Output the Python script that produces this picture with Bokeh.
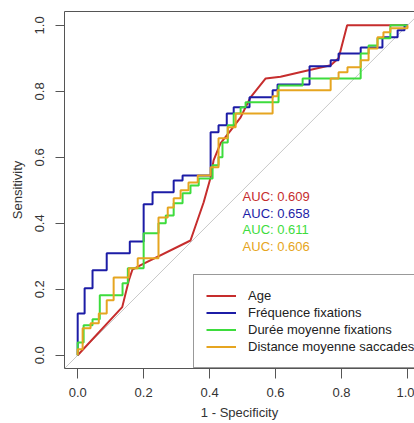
from bokeh.plotting import figure
from bokeh.models import Range1d, FixedTicker, LinearAxis, Legend, LegendItem, Slope, Label, PrintfTickFormatter
from bokeh.embed import file_html
from bokeh.resources import INLINE

# ---- data ----
series_names = ["Age", "Fréquence fixations", "Durée moyenne fixations", "Distance moyenne saccades"]
auc_values = [0.609, 0.658, 0.611, 0.606]
colors = ["#c62d2d", "#1c1ca6", "#3ddc3d", "#e6a520"]

# Age: polyline (1 - specificity, sensitivity)
age_fpr = [0.0, 0.135, 0.155, 0.166, 0.191, 0.342, 0.382, 0.403, 0.412, 0.433, 0.464, 0.494,
           0.524, 0.570, 0.615, 0.700, 0.767, 0.791, 0.817, 1.0]
age_tpr = [0.0, 0.146, 0.227, 0.260, 0.273, 0.348, 0.464, 0.539, 0.591, 0.642, 0.682, 0.721,
           0.782, 0.839, 0.844, 0.864, 0.879, 0.900, 1.0, 1.0]

# staircase curves: x where each vertical step happens, and the sensitivity reached
freq_fpr = [0.0, 0.021, 0.045, 0.088, 0.158, 0.200, 0.227, 0.291, 0.318, 0.403, 0.427, 0.452,
            0.473, 0.521, 0.591, 0.606, 0.703, 0.767, 0.791, 0.858, 0.924, 0.970, 0.991]
freq_tpr = [0.127, 0.203, 0.258, 0.309, 0.345, 0.458, 0.494, 0.530, 0.545, 0.676, 0.697, 0.733,
            0.752, 0.782, 0.803, 0.821, 0.876, 0.894, 0.915, 0.933, 0.964, 0.985, 1.0]

duree_fpr = [0.0, 0.018, 0.045, 0.067, 0.136, 0.152, 0.200, 0.245, 0.267, 0.291, 0.318, 0.342,
             0.367, 0.409, 0.427, 0.439, 0.455, 0.473, 0.494, 0.509, 0.609, 0.682, 0.858, 0.882,
             0.909, 0.948]
duree_tpr = [0.039, 0.091, 0.109, 0.182, 0.218, 0.264, 0.370, 0.400, 0.424, 0.461, 0.491, 0.515,
             0.536, 0.576, 0.600, 0.645, 0.697, 0.733, 0.752, 0.767, 0.818, 0.839, 0.915, 0.939,
             0.961, 1.0]

dist_fpr = [0.0, 0.015, 0.039, 0.064, 0.088, 0.109, 0.155, 0.182, 0.245, 0.273, 0.291, 0.312,
            0.336, 0.364, 0.403, 0.427, 0.455, 0.479, 0.591, 0.606, 0.767, 0.791, 0.818, 0.858,
            0.882, 0.909, 0.927, 0.948, 1.0]
dist_tpr = [0.018, 0.082, 0.097, 0.127, 0.167, 0.236, 0.264, 0.294, 0.418, 0.448, 0.476, 0.500,
            0.524, 0.545, 0.570, 0.658, 0.691, 0.733, 0.785, 0.803, 0.839, 0.858, 0.873, 0.894,
            0.930, 0.964, 0.979, 0.991, 1.0]

tick_values = [0.0, 0.2, 0.4, 0.6, 0.8, 1.0]


def staircase(xs, ys):
    vx, vy = [0.0], [0.0]
    for x, y in zip(xs, ys):
        vx.append(x); vy.append(vy[-1])
        vx.append(x); vy.append(y)
    vx.append(1.0); vy.append(vy[-1])
    return vx, vy


FONT = "Liberation Sans"
AX = "#555555"
TXT = "#333333"

p = figure(width=414, height=423, output_backend="svg", toolbar_location=None,
           x_range=Range1d(-0.04, 1.0212), y_range=Range1d(-0.04, 1.042),
           min_border_left=64, min_border_right=0, min_border_top=11, min_border_bottom=55)
p.outline_line_color = None
p.xgrid.visible = False
p.ygrid.visible = False
p.background_fill_color = "white"
p.border_fill_color = "white"

for ax, tout, stand in ((p.xaxis[0], 10, 9), (p.yaxis[0], 9, 11)):
    ax.ticker = FixedTicker(ticks=tick_values)
    ax.formatter = PrintfTickFormatter(format="%.1f")
    ax.axis_line_color = AX
    ax.major_tick_line_color = AX
    ax.major_tick_out = tout
    ax.major_tick_in = 0
    ax.minor_tick_line_color = None
    ax.major_label_text_font = FONT
    ax.major_label_text_font_size = "13px"
    ax.major_label_text_color = TXT
    ax.major_label_standoff = stand
    ax.axis_label_text_font = FONT
    ax.axis_label_text_font_size = "13px"
    ax.axis_label_text_font_style = "normal"
    ax.axis_label_text_color = TXT

p.yaxis[0].major_label_orientation = "vertical"
p.yaxis[0].axis_label = "Sensitivity"
p.yaxis[0].axis_label_standoff = 8
p.xaxis[0].axis_label = "1 - Specificity"
p.xaxis[0].axis_label_standoff = 5

top = LinearAxis(ticker=FixedTicker(ticks=[]), axis_line_color=AX, major_tick_out=0, major_tick_in=0,
                 minor_tick_line_color=None, major_label_standoff=0, major_label_text_font_size="0px")
p.add_layout(top, "above")

p.add_layout(Slope(gradient=1, y_intercept=0, line_color="#c8c8c8", line_width=1, level="underlay"))

curves = [(age_fpr, age_tpr)] + [staircase(a, b) for a, b in
                                  ((freq_fpr, freq_tpr), (duree_fpr, duree_tpr), (dist_fpr, dist_tpr))]
renderers = []
for (xs, ys), c in zip(curves, colors):
    renderers.append(p.line(xs, ys, line_color=c, line_width=2))

# AUC texts
for i, (a, c) in enumerate(zip(auc_values, colors)):
    p.add_layout(Label(x=0.5, y=0.481 - 0.05 * i, text="AUC: %.3f" % a, text_color=c,
                       text_font=FONT, text_font_size="13px", text_baseline="middle", text_align="left"))

legend = Legend(items=[LegendItem(label=n, renderers=[r]) for n, r in zip(series_names, renderers)],
                location=(129, 0), padding=12, spacing=0, margin=0,
                glyph_width=30, glyph_height=17, label_height=17, label_standoff=12,
                label_text_font=FONT, label_text_font_size="13px", label_text_color="#222222",
                border_line_color="#333333", border_line_width=1,
                background_fill_color="white", background_fill_alpha=1.0)
p.add_layout(legend)

open("out.html", "w").write(file_html(p, INLINE))
